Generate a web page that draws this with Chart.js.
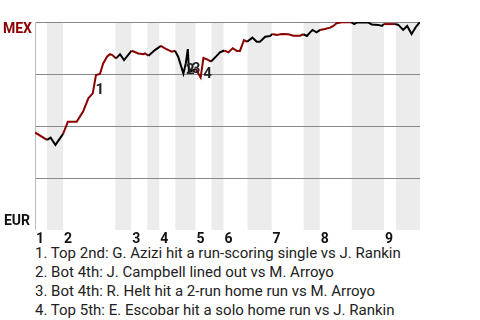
<!DOCTYPE html>
<html>
<head>
<meta charset="utf-8">
<script src="https://cdn.jsdelivr.net/npm/chart.js@4"></script>
<style>
  body { margin: 0; background: #fff; font-family: Roboto, sans-serif; }
  #wrap { width: 480px; height: 320px; position: relative; }
  #notes { padding-left: 35px; font-size: 15px; line-height: 19px; color: #222; white-space: nowrap; }
</style>
</head>
<body>
<div id="wrap">
  <canvas id="wpChart" width="480" height="244"></canvas>
  <div id="notes"></div>
</div>
<script>
// inning labels and where each inning starts (play index)
const innings = ['1', '2', '3', '4', '5', '6', '7', '8', '9'];
const inningStarts = [0, 7, 24, 31, 40, 47, 59, 71, 87];
// bottom halves get the grey band
const bottomHalves = [[3, 7], [20, 24], [28, 31], [35, 40], [44, 47], [53, 59], [67, 71], [79, 87], [90, 96]];

// win probability for MEX, by play
const playX = [0, 3.0, 3.9, 5.1, 7.0, 8.2, 10.4, 12.0, 13.3, 14.4, 15.2, 16.2, 17.0, 18.0, 18.7, 19.3,
  20.2, 21.2, 22.2, 24.1, 25.8, 27.0, 27.4, 28.3, 29.9, 31.4, 32.4, 34.1, 34.9, 35.7, 37.0, 37.6,
  38.1, 38.4, 40.1, 41.3, 42.0, 42.9, 43.9, 45.3, 46.1, 47.2, 48.2, 49.3, 50.3, 51.1, 52.1, 52.9,
  54.2, 55.3, 56.1, 57.4, 58.6, 59.2, 60.3, 61.5, 63.2, 64.4, 66.1, 66.9, 67.8, 68.6, 69.2, 70.2,
  71.1, 72.3, 73.6, 74.4, 75.2, 76.5, 78.8, 79.6, 80.2, 83.1, 84.0, 85.6, 86.5, 87.0, 89.8, 90.6,
  91.8, 92.8, 93.9, 95.0, 96];
const winProb = [0.469, 0.433, 0.444, 0.409, 0.462, 0.521, 0.521, 0.569, 0.633, 0.657, 0.745, 0.75, 0.801, 0.834, 0.845, 0.841,
  0.825, 0.845, 0.817, 0.862, 0.849, 0.845, 0.849, 0.838, 0.865, 0.885, 0.873, 0.857, 0.862, 0.833, 0.752, 0.801,
  0.870, 0.760, 0.774, 0.733, 0.827, 0.820, 0.810, 0.837, 0.854, 0.863, 0.854, 0.874, 0.861, 0.861, 0.913, 0.905,
  0.925, 0.905, 0.905, 0.929, 0.933, 0.942, 0.938, 0.942, 0.941, 0.934, 0.934, 0.941, 0.933, 0.950, 0.962, 0.950,
  0.962, 0.966, 0.973, 0.981, 0.994, 0.999, 0.999, 0.990, 0.997, 0.997, 0.988, 0.986, 0.981, 0.990, 0.990, 0.986,
  0.962, 0.981, 0.942, 0.977, 1.0];

// key plays
const noteLabels = ['1', '2', '3', '4'];
const noteX = [14.4, 37.0, 38.4, 41.3];
const noteY = [0.657, 0.752, 0.760, 0.733];
const noteTexts = [
  '1. Top 2nd: G. Azizi hit a run-scoring single vs J. Rankin',
  '2. Bot 4th: J. Campbell lined out vs M. Arroyo',
  '3. Bot 4th: R. Helt hit a 2-run home run vs M. Arroyo',
  '4. Top 5th: E. Escobar hit a solo home run vs J. Rankin'
];

const teamTop = 'MEX';
const teamBottom = 'EUR';
const RED = '#8b0000';

document.getElementById('notes').innerHTML = noteTexts.map(t => `<div>${t}</div>`).join('');

function inBottomHalf(x) {
  return bottomHalves.some(([a, b]) => x >= a && x <= b);
}

const backdrop = {
  id: 'backdrop',
  beforeDatasetsDraw(chart) {
    const { ctx, chartArea: area, scales: { x, y } } = chart;
    ctx.save();
    ctx.fillStyle = '#ececec';
    bottomHalves.forEach(([a, b]) => {
      const x0 = x.getPixelForValue(a), x1 = x.getPixelForValue(b);
      ctx.fillRect(x0, area.top, x1 - x0, area.bottom - area.top);
    });
    ctx.strokeStyle = '#888';
    ctx.lineWidth = 1;
    [0.25, 0.5, 0.75, 1].forEach(v => {
      const py = Math.round(y.getPixelForValue(v)) + 0.5;
      ctx.beginPath();
      ctx.moveTo(area.left, py);
      ctx.lineTo(area.right, py);
      ctx.stroke();
    });
    ctx.strokeStyle = '#bbb';
    ctx.beginPath();
    ctx.moveTo(area.left + 0.5, area.top);
    ctx.lineTo(area.left + 0.5, area.bottom);
    ctx.stroke();
    ctx.restore();
  },
  afterDatasetsDraw(chart) {
    const { ctx, chartArea: area, scales: { x, y } } = chart;
    ctx.save();
    ctx.font = 'bold 14px Roboto, sans-serif';
    ctx.textBaseline = 'middle';
    // team labels
    ctx.textAlign = 'right';
    ctx.fillStyle = RED;
    ctx.fillText(teamTop, area.left - 3, y.getPixelForValue(1) + 7);
    ctx.fillStyle = '#111';
    ctx.fillText(teamBottom, area.left - 5, y.getPixelForValue(0) - 9);
    // innings
    ctx.textAlign = 'left';
    innings.forEach((t, i) => {
      ctx.fillText(t, x.getPixelForValue(inningStarts[i]) + 1, area.bottom + 9);
    });
    // key play numbers
    ctx.font = 'bold 15px Roboto, sans-serif';
    ctx.fillStyle = '#222';
    ctx.textAlign = 'center';
    noteLabels.forEach((t, i) => {
      ctx.fillText(t, x.getPixelForValue(noteX[i]) + 7, y.getPixelForValue(noteY[i]) - 3);
    });
    ctx.restore();
  }
};

new Chart(document.getElementById('wpChart'), {
  type: 'line',
  data: {
    datasets: [{
      data: playX.map((v, i) => ({ x: v, y: winProb[i] })),
      borderWidth: 2,
      pointRadius: 0,
      tension: 0,
      borderColor: RED,
      segment: {
        borderColor: c => inBottomHalf((c.p0.parsed.x + c.p1.parsed.x) / 2) ? '#000' : RED
      }
    }]
  },
  options: {
    responsive: false,
    animation: false,
    layout: { padding: { left: 35, top: 22, right: 60, bottom: 14 } },
    scales: {
      x: { type: 'linear', min: 0, max: 96, display: false },
      y: { min: 0, max: 1, display: false }
    },
    plugins: { legend: { display: false }, tooltip: { enabled: false } }
  },
  plugins: [backdrop]
});
</script>
</body>
</html>
